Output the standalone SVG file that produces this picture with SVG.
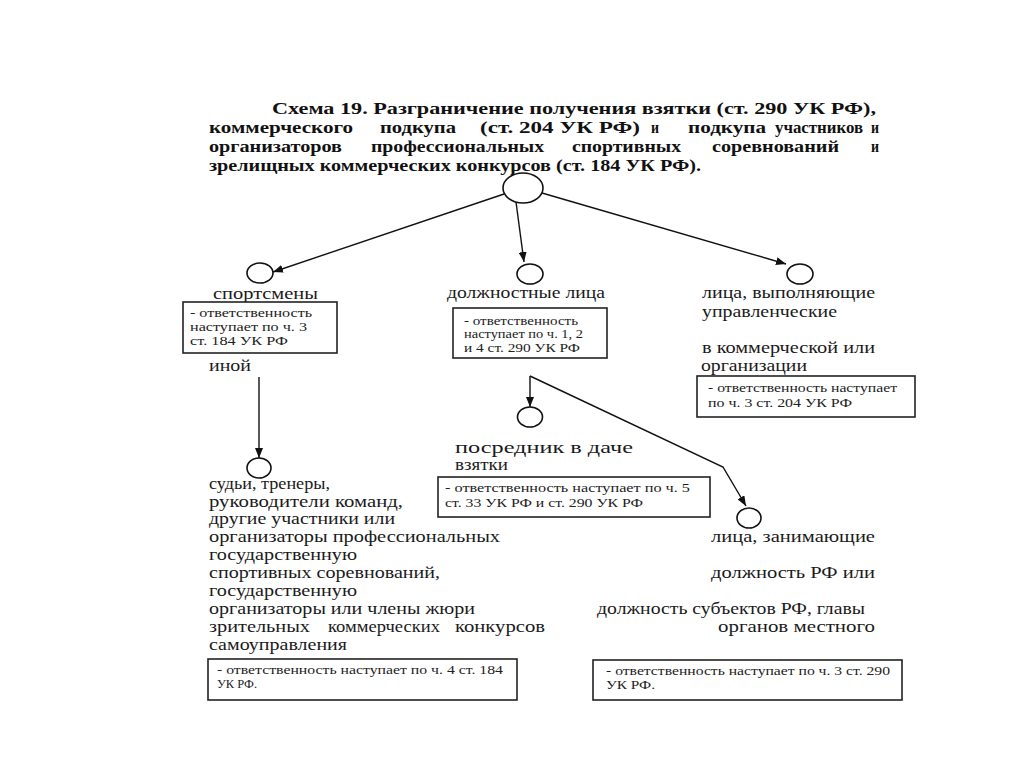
<svg xmlns="http://www.w3.org/2000/svg" width="1024" height="767" viewBox="0 0 1024 767">
<defs>
<style>
.t{font-family:"Liberation Serif","Times New Roman",serif;font-weight:bold;font-size:16px;fill:#111}
.l{font-family:"Liberation Serif","Times New Roman",serif;font-size:17px;fill:#1a1a1a}
.b{font-family:"Liberation Serif","Times New Roman",serif;font-size:12px;fill:#222}
.c{fill:#fff;stroke:#111;stroke-width:1.6}
.r{fill:#fff;stroke:#222;stroke-width:1.6}
.e{fill:none;stroke:#111;stroke-width:1.4}
</style>
<marker id="ah" markerUnits="userSpaceOnUse" markerWidth="10" markerHeight="8" refX="10" refY="4" orient="auto">
<path d="M0,0 L10,4 L0,8 z" fill="#111"/>
</marker>
</defs>
<rect width="1024" height="767" fill="#fff"/>

<g id="title">
<text class="t" x="272" y="114" textLength="604" lengthAdjust="spacingAndGlyphs">Схема 19. Разграничение получения взятки (ст. 290 УК РФ),</text>
<text class="t" x="209" y="133" textLength="144" lengthAdjust="spacingAndGlyphs">коммерческого</text>
<text class="t" x="380" y="133" textLength="76" lengthAdjust="spacingAndGlyphs">подкупа</text>
<text class="t" x="480" y="133" textLength="160" lengthAdjust="spacingAndGlyphs">(ст. 204 УК РФ)</text>
<text class="t" x="651" y="133" textLength="8" lengthAdjust="spacingAndGlyphs">и</text>
<text class="t" x="688" y="133" textLength="78" lengthAdjust="spacingAndGlyphs">подкупа</text>
<text class="t" x="775" y="133" textLength="88" lengthAdjust="spacingAndGlyphs">участников</text>
<text class="t" x="871" y="133" textLength="8" lengthAdjust="spacingAndGlyphs">и</text>
<text class="t" x="209" y="152" textLength="133" lengthAdjust="spacingAndGlyphs">организаторов</text>
<text class="t" x="371" y="152" textLength="173" lengthAdjust="spacingAndGlyphs">профессиональных</text>
<text class="t" x="572" y="152" textLength="109" lengthAdjust="spacingAndGlyphs">спортивных</text>
<text class="t" x="712" y="152" textLength="127" lengthAdjust="spacingAndGlyphs">соревнований</text>
<text class="t" x="871" y="152" textLength="8" lengthAdjust="spacingAndGlyphs">и</text>
<text class="t" x="209" y="171" textLength="492" lengthAdjust="spacingAndGlyphs">зрелищных коммерческих конкурсов (ст. 184 УК РФ).</text>
</g>

<g id="connectors">
<line class="e" x1="504" y1="194" x2="273" y2="272" marker-end="url(#ah)"/>
<line class="e" x1="516" y1="202" x2="524" y2="262" marker-end="url(#ah)"/>
<line class="e" x1="542" y1="193" x2="786" y2="264" marker-end="url(#ah)"/>
<line class="e" x1="259" y1="377" x2="259" y2="458" marker-end="url(#ah)"/>
<line class="e" x1="530" y1="376" x2="530" y2="407" marker-end="url(#ah)"/>
<polyline class="e" points="530,376 723,467 746,506" marker-end="url(#ah)"/>
</g>

<g id="root">
<ellipse class="c" cx="523" cy="188" rx="20" ry="15"/>
</g>

<g id="sportsmen">
<ellipse class="c" cx="260" cy="273" rx="13" ry="10"/>
<text class="l" x="213" y="299" textLength="105" lengthAdjust="spacingAndGlyphs">спортсмены</text>
<rect class="r" x="183" y="302" width="154" height="51"/>
<text class="b" x="190" y="317" textLength="122" lengthAdjust="spacingAndGlyphs">- ответственность</text>
<text class="b" x="190" y="331" textLength="117" lengthAdjust="spacingAndGlyphs">наступает по ч. 3</text>
<text class="b" x="190" y="345" textLength="98" lengthAdjust="spacingAndGlyphs">ст. 184 УК РФ</text>
<text class="l" x="209" y="371" textLength="42" lengthAdjust="spacingAndGlyphs">иной</text>
</g>

<g id="officials">
<ellipse class="c" cx="530" cy="274" rx="13" ry="10"/>
<text class="l" x="447" y="298" textLength="158" lengthAdjust="spacingAndGlyphs">должностные лица</text>
<rect class="r" x="453" y="308" width="154" height="50"/>
<text class="b" x="464" y="325" textLength="114" lengthAdjust="spacingAndGlyphs">- ответственность</text>
<text class="b" x="464" y="338" textLength="119" lengthAdjust="spacingAndGlyphs">наступает по ч. 1, 2</text>
<text class="b" x="464" y="352" textLength="116" lengthAdjust="spacingAndGlyphs">и 4 ст. 290 УК РФ</text>
</g>

<g id="managers">
<ellipse class="c" cx="800" cy="274" rx="13" ry="10"/>
<text class="l" x="702" y="298" textLength="173" lengthAdjust="spacingAndGlyphs">лица, выполняющие</text>
<text class="l" x="702" y="317" textLength="135" lengthAdjust="spacingAndGlyphs">управленческие</text>
<text class="l" x="702" y="353" textLength="173" lengthAdjust="spacingAndGlyphs">в коммерческой или</text>
<text class="l" x="701" y="371" textLength="106" lengthAdjust="spacingAndGlyphs">организации</text>
<rect class="r" x="697" y="376" width="218" height="41"/>
<text class="b" x="708" y="392" textLength="189" lengthAdjust="spacingAndGlyphs">- ответственность наступает</text>
<text class="b" x="708" y="407" textLength="144" lengthAdjust="spacingAndGlyphs">по ч. 3 ст. 204 УК РФ</text>
</g>

<g id="intermediary">
<ellipse class="c" cx="530" cy="417" rx="12.5" ry="10"/>
<text class="l" x="455" y="453" textLength="178" lengthAdjust="spacingAndGlyphs">посредник в даче</text>
<text class="l" x="455" y="470" textLength="53" lengthAdjust="spacingAndGlyphs">взятки</text>
<rect class="r" x="438" y="477" width="272" height="40"/>
<text class="b" x="445" y="492" textLength="245" lengthAdjust="spacingAndGlyphs">- ответственность наступает по ч. 5</text>
<text class="b" x="445" y="507" textLength="198" lengthAdjust="spacingAndGlyphs">ст. 33 УК РФ и  ст. 290 УК РФ</text>
</g>

<g id="judges">
<ellipse class="c" cx="259" cy="468" rx="12" ry="10"/>
<text class="l" x="209" y="489" textLength="121" lengthAdjust="spacingAndGlyphs">судьи, тренеры,</text>
<text class="l" x="209" y="507" textLength="194" lengthAdjust="spacingAndGlyphs">руководители команд,</text>
<text class="l" x="209" y="524" textLength="186" lengthAdjust="spacingAndGlyphs">другие участники или</text>
<text class="l" x="209" y="542" textLength="291" lengthAdjust="spacingAndGlyphs">организаторы  профессиональных</text>
<text class="l" x="209" y="560" textLength="148" lengthAdjust="spacingAndGlyphs">государственную</text>
<text class="l" x="209" y="578" textLength="231" lengthAdjust="spacingAndGlyphs">спортивных  соревнований,</text>
<text class="l" x="209" y="596" textLength="148" lengthAdjust="spacingAndGlyphs">государственную</text>
<text class="l" x="209" y="614" textLength="266" lengthAdjust="spacingAndGlyphs">организаторы или члены жюри</text>
<text class="l" x="209" y="632" textLength="101" lengthAdjust="spacingAndGlyphs">зрительных</text>
<text class="l" x="328" y="632" textLength="112" lengthAdjust="spacingAndGlyphs">коммерческих</text>
<text class="l" x="455" y="632" textLength="90" lengthAdjust="spacingAndGlyphs">конкурсов</text>
<text class="l" x="209" y="650" textLength="138" lengthAdjust="spacingAndGlyphs">самоуправления</text>
<rect class="r" x="208" y="659" width="309" height="41"/>
<text class="b" x="217" y="674" textLength="286" lengthAdjust="spacingAndGlyphs">- ответственность наступает по ч. 4 ст. 184</text>
<text class="b" x="217" y="688" textLength="40" lengthAdjust="spacingAndGlyphs">УК РФ.</text>
</g>

<g id="state-officials">
<ellipse class="c" cx="749" cy="518" rx="12" ry="10"/>
<text class="l" x="711" y="542" textLength="164" lengthAdjust="spacingAndGlyphs">лица,  занимающие</text>
<text class="l" x="711" y="578" textLength="164" lengthAdjust="spacingAndGlyphs">должность РФ  или</text>
<text class="l" x="597" y="614" textLength="268" lengthAdjust="spacingAndGlyphs">должность субъектов РФ, главы</text>
<text class="l" x="718" y="632" textLength="157" lengthAdjust="spacingAndGlyphs">органов   местного</text>
<rect class="r" x="593" y="660" width="309" height="40"/>
<text class="b" x="606" y="675" textLength="284" lengthAdjust="spacingAndGlyphs">- ответственность наступает по ч. 3 ст. 290</text>
<text class="b" x="606" y="689" textLength="49" lengthAdjust="spacingAndGlyphs">УК РФ.</text>
</g>
</svg>
